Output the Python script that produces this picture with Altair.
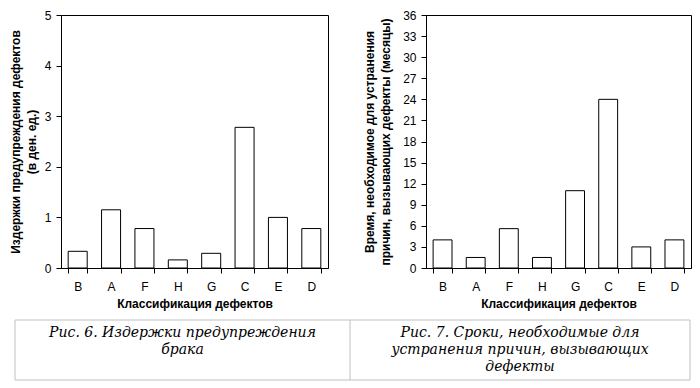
import altair as alt
import pandas as pd

categories = ["B", "A", "F", "H", "G", "C", "E", "D"]
cost_values = [0.33, 1.15, 0.78, 0.16, 0.29, 2.78, 1.0, 0.78]
time_values = [4.0, 1.5, 5.6, 1.5, 11.0, 24.0, 3.0, 4.0]
cost_ticks = [0, 1, 2, 3, 4, 5]
time_ticks = [0, 3, 6, 9, 12, 15, 18, 21, 24, 27, 30, 33, 36]

x_title = "Классификация дефектов"
left_title = ["Издержки предупреждения дефектов", "(в ден. ед.)"]
right_title = ["Время, необходимое для устранения", "причин, вызывающих дефекты (месяцы)"]
cap_left = ["Рис. 6. Издержки предупреждения", "брака"]
cap_right = ["Рис. 7. Сроки, необходимые для", "устранения причин, вызывающих", "дефекты"]

df1 = pd.DataFrame({"cat": categories, "val": cost_values})
df2 = pd.DataFrame({"cat": categories, "val": time_values})

FONT = "Liberation Sans"


def panel(df, ticks, ytitle, w, h, ytitle_pad):
    return alt.Chart(df).mark_bar(fill="white", stroke="black", strokeWidth=1).encode(
        x=alt.X("cat:N", sort=categories,
                scale=alt.Scale(paddingInner=0.43, paddingOuter=0.215),
                axis=alt.Axis(title=x_title, labelAngle=0, tickBand="extent",
                              labelPadding=8, titlePadding=6, tickSize=5,
                              domainColor="black", tickColor="black")),
        y=alt.Y("val:Q", scale=alt.Scale(domain=[ticks[0], ticks[-1]], nice=False),
                axis=alt.Axis(title=ytitle, values=ticks, grid=False, tickSize=5,
                              labelPadding=5, titlePadding=ytitle_pad, titleLineHeight=16,
                              domainColor="black", tickColor="black")),
    ).properties(width=w, height=h)


left = panel(df1, cost_ticks, left_title, 267, 253, 6)
right = panel(df2, time_ticks, right_title, 265, 253, 10)

top = alt.hconcat(left, right, spacing=34)

# caption table (its origin sits under the left plot's origin)
cap_w, cap_h = 629, 60
box_l, box_mid, box_r = -46, 289, 629

frame = alt.Chart(pd.DataFrame({"k": [0]})).mark_rect(
    fill="white", stroke="#c0c0c0", strokeWidth=1
).encode(x=alt.value(box_l), x2=alt.value(box_r), y=alt.value(0), y2=alt.value(cap_h))
divider = alt.Chart(pd.DataFrame({"k": [0]})).mark_rule(
    color="#c0c0c0", strokeWidth=1
).encode(x=alt.value(box_mid), y=alt.value(0), y2=alt.value(cap_h))

cap_style = dict(font="DejaVu Serif", fontStyle="italic", fontSize=14, lineHeight=17,
                 baseline="alphabetic", align="center", color="black")
txt_l = alt.Chart(pd.DataFrame({"t": [cap_left]})).mark_text(**cap_style).encode(
    text="t:N", x=alt.value((box_l + box_mid) / 2), y=alt.value(17))
txt_r = alt.Chart(pd.DataFrame({"t": [cap_right]})).mark_text(**cap_style).encode(
    text="t:N", x=alt.value((box_mid + box_r) / 2), y=alt.value(17))

caption = alt.layer(frame, divider, txt_l, txt_r).properties(
    width=cap_w, height=cap_h, view=alt.ViewConfig(stroke=None)
)

chart = alt.vconcat(top, caption, spacing=9).properties(
    padding={"left": 0, "top": 0, "right": 0, "bottom": 0},
    background="white",
).configure_view(stroke="black", strokeWidth=1).configure_axis(
    labelFont=FONT, labelFontSize=12, labelColor="black",
    titleFont=FONT, titleFontSize=12, titleFontWeight="bold", titleColor="black",
)

chart.save("out.html", embed_options={"renderer": "svg", "actions": False})
